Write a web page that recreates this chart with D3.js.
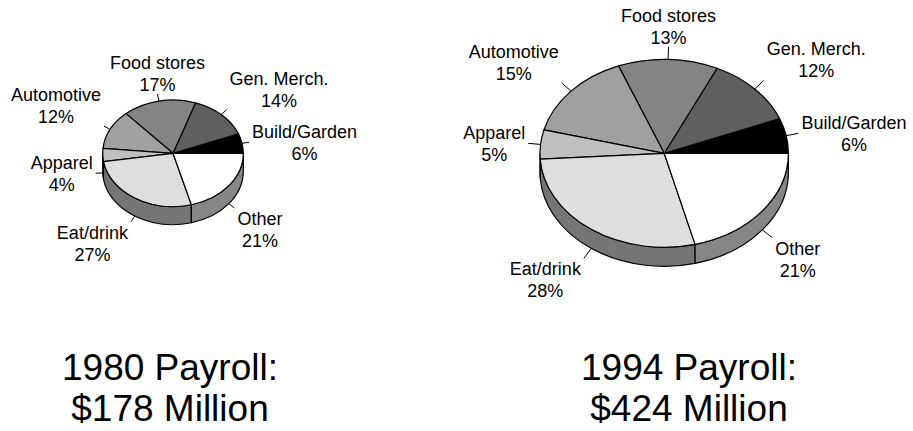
<!DOCTYPE html>
<html lang="en">
<head>
<meta charset="utf-8">
<title>Payroll by sector, 1980 vs 1994</title>
<script src="https://cdnjs.cloudflare.com/ajax/libs/d3/7.8.5/d3.min.js"></script>
<style>
  body { margin: 0; background: #fff; }
  svg text { font-family: "Liberation Sans", Arial, sans-serif; fill: #000; }
</style>
</head>
<body>
<svg id="chart" width="913" height="431"></svg>
<script>
// data
var categories = ["Build/Garden", "Gen. Merch.", "Food stores", "Automotive", "Apparel", "Eat/drink", "Other"];
var share1980 = [6, 14, 17, 12, 4, 27, 21];
var share1994 = [6, 12, 13, 15, 5, 28, 21];
var years = [1980, 1994];
var payroll = [178, 424]; // $ million

// greys for the slice tops
var greys = ["#000000", "#5f5f5f", "#848484", "#a0a0a0", "#c0c0c0", "#dedede", "#ffffff"];

var svg = d3.select("#chart");

// layout of each pie
var pies = [
  {values: share1980, cx: 173, cy: 153.3, rx: 70.3, ry: 53.3, depth: 18, titleX: 170},
  {values: share1994, cx: 664.2, cy: 153.3, rx: 124.2, ry: 94, depth: 19, titleX: 689}
];

var pie = d3.pie().sort(null).startAngle(0).endAngle(2 * Math.PI);

function drawPie(cfg, idx) {
  var g = svg.append("g");
  var arcs = pie(cfg.values);

  // point on the ellipse, angle counter-clockwise from 3 o'clock
  function pt(a, dy) {
    return [cfg.cx + cfg.rx * Math.cos(a), cfg.cy - cfg.ry * Math.sin(a) + (dy || 0)];
  }

  // front wall (only the part facing us: angles pi..2pi)
  arcs.forEach(function(d, i) {
    var s = Math.max(d.startAngle, Math.PI), e = Math.min(d.endAngle, 2 * Math.PI);
    if (e <= s) return;
    var p0 = pt(s), p1 = pt(e), q1 = pt(e, cfg.depth), q0 = pt(s, cfg.depth);
    var big = (e - s) > Math.PI ? 1 : 0;
    var path = "M" + p0 + "A" + cfg.rx + "," + cfg.ry + " 0 " + big + " 0 " + p1 +
      "L" + q1 + "A" + cfg.rx + "," + cfg.ry + " 0 " + big + " 1 " + q0 + "Z";
    g.append("path")
      .attr("d", path)
      .attr("fill", d3.color(greys[i]).darker(1.8))
      .attr("stroke", "#000")
      .attr("stroke-width", 1.2)
      .attr("stroke-linejoin", "round");
  });

  // slice tops
  g.selectAll("path.top")
    .data(arcs)
    .enter()
    .append("path")
    .attr("class", "top")
    .attr("d", function(d) {
      var big = (d.endAngle - d.startAngle) > Math.PI ? 1 : 0;
      return "M" + cfg.cx + "," + cfg.cy + "L" + pt(d.startAngle) +
        "A" + cfg.rx + "," + cfg.ry + " 0 " + big + " 0 " + pt(d.endAngle) + "Z";
    })
    .attr("fill", function(d, i) { return greys[i]; })
    .attr("stroke", "#000")
    .attr("stroke-width", 1.2)
    .attr("stroke-linejoin", "round");

  // leader ticks and labels
  var tick = cfg.rx * 0.1, gap = 3, h = 36;
  arcs.forEach(function(d, i) {
    var a = (d.startAngle + d.endAngle) / 2;
    var c = Math.cos(a), s = Math.sin(a);
    var edge = pt(a, s < 0 ? cfg.depth : 0);
    var end = [edge[0] + tick * c, edge[1] - tick * s];
    g.append("line")
      .attr("x1", edge[0]).attr("y1", edge[1])
      .attr("x2", end[0]).attr("y2", end[1])
      .attr("stroke", "#000").attr("stroke-width", 1);

    var t = g.append("text").attr("text-anchor", "middle").style("font-size", "18px");
    var l1 = t.append("tspan").text(categories[i]);
    var l2 = t.append("tspan").text(d.data + "%");
    var w = Math.max(l1.node().getComputedTextLength(), l2.node().getComputedTextLength());

    var fx = Math.sign(c) * Math.min(1, Math.max(0, (Math.abs(c) - 0.25) / 0.25));
    var fy = -Math.sign(s) * Math.min(1, Math.max(0, (Math.abs(s) - 0.2) / 0.25));
    var lx = end[0] + fx * (w / 2 + gap);
    var ly = end[1] + fy * (h / 2 + gap);
    l1.attr("x", lx).attr("y", ly - 4);
    l2.attr("x", lx).attr("y", ly + 18);
  });

  // title under the pie
  var title = svg.append("text")
    .attr("text-anchor", "middle")
    .style("font-size", "37px");
  title.append("tspan").attr("x", cfg.titleX).attr("y", 380).text(years[idx] + " Payroll:");
  title.append("tspan").attr("x", cfg.titleX).attr("y", 421).text("$" + payroll[idx] + " Million");
}

pies.forEach(drawPie);
</script>
</body>
</html>
